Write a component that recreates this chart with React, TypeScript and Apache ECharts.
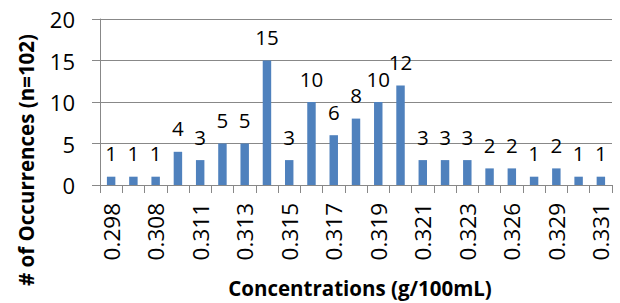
import React, { useEffect, useRef } from "react";
import * as echarts from "echarts";

const categories = [
  "0.298", "0.305", "0.308", "0.310", "0.311", "0.312", "0.313", "0.314",
  "0.315", "0.316", "0.317", "0.318", "0.319", "0.320", "0.321", "0.322",
  "0.323", "0.325", "0.326", "0.328", "0.329", "0.330", "0.331",
];
const occurrences = [1, 1, 1, 4, 3, 5, 5, 15, 3, 10, 6, 8, 10, 12, 3, 3, 3, 2, 2, 1, 2, 1, 1];
const yTitle = "# of Occurrences (n=102)";
const xTitle = "Concentrations (g/100mL)";

const FONT = "'Open Sans', sans-serif";
const GRAY = "#888888";

export default function App() {
  const ref = useRef<HTMLDivElement>(null);
  useEffect(() => {
    document.body.style.margin = "0";
    const chart = echarts.init(ref.current!, null, { renderer: "svg" });
    chart.setOption({
      animation: false,
      backgroundColor: "#ffffff",
      textStyle: { fontFamily: FONT },
      grid: { left: 100, right: 8, top: 19, bottom: 118, containLabel: false },
      xAxis: {
        type: "category",
        data: categories,
        boundaryGap: true,
        axisLine: { show: true, lineStyle: { color: GRAY, width: 1 } },
        axisTick: { show: true, interval: 0, length: 8, lineStyle: { color: GRAY, width: 1 } },
        axisLabel: {
          interval: 1,
          rotate: 90,
          margin: 18,
          color: "#000",
          fontSize: 22.5,
          fontFamily: FONT,
        },
        splitLine: { show: false },
      },
      yAxis: {
        type: "value",
        min: 0,
        max: 20,
        interval: 5,
        axisLine: { show: true, lineStyle: { color: GRAY, width: 1 } },
        axisTick: { show: true, length: 8, lineStyle: { color: GRAY, width: 1 } },
        axisLabel: { margin: 25, color: "#000", fontSize: 22, fontFamily: FONT },
        splitLine: { show: true, lineStyle: { color: GRAY, width: 1 } },
      },
      series: [
        {
          type: "bar",
          data: occurrences,
          barWidth: "38%",
          itemStyle: { color: "#4F81BD" },
          label: {
            show: true,
            position: "top",
            distance: 13,
            color: "#000",
            fontSize: 20.5,
            fontFamily: FONT,
          },
        },
      ],
      graphic: [
        {
          type: "text",
          x: 26,
          y: 160,
          rotation: Math.PI / 2,
          style: {
            text: yTitle,
            fontSize: 20.5,
            fontWeight: "bold",
            fontFamily: FONT,
            fill: "#000",
            align: "center",
            verticalAlign: "middle",
          },
        },
        {
          type: "text",
          x: 360,
          y: 288,
          style: {
            text: xTitle,
            fontSize: 20.5,
            fontWeight: "bold",
            fontFamily: FONT,
            fill: "#000",
            align: "center",
            verticalAlign: "middle",
          },
        },
      ],
    });
    return () => chart.dispose();
  }, []);
  return <div ref={ref} style={{ width: 620, height: 303 }} />;
}
